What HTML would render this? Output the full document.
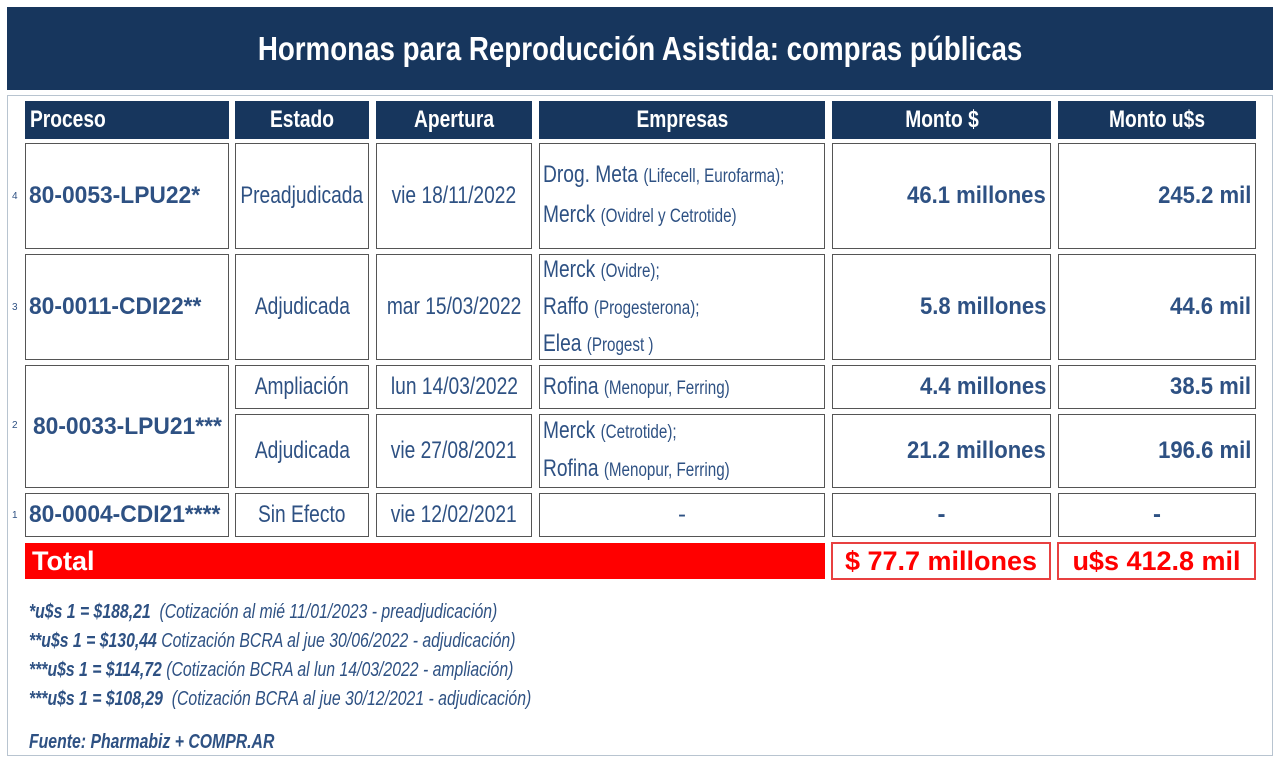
<!DOCTYPE html>
<html><head><meta charset="utf-8"><style>
body{margin:0;width:1280px;height:761px;background:#fff;position:relative;overflow:hidden;font-family:"Liberation Sans",sans-serif;}
div{box-sizing:border-box;}
.a{position:absolute;}
.s{display:inline-block;white-space:nowrap;transform:scaleX(.8);transform-origin:center;}
.l .s,.e .s{transform-origin:left center;}
.r .s{transform-origin:right center;}
.b .s,.r .s{transform:scaleX(.92);}
.p{font-size:25px;}
.p .s{transform:scaleX(.95);}
.title{left:7px;top:7px;width:1266px;height:83px;background:#17365d;color:#fff;font-weight:bold;font-size:33px;display:flex;align-items:center;justify-content:center;}
.title .s{transform:scaleX(.84);}
.frame{left:7px;top:95px;width:1266px;height:661px;border:1px solid #b8c4d0;}
.h{background:#17365d;color:#fff;font-weight:bold;font-size:24px;display:flex;align-items:center;justify-content:center;}
.c{border:1px solid #555;color:#2e5183;font-size:24px;display:flex;align-items:center;justify-content:center;white-space:nowrap;}
.l{justify-content:flex-start;padding-left:3px;}
.r{justify-content:flex-end;padding-right:4px;font-weight:bold;}
.e{flex-direction:column;align-items:flex-start;justify-content:center;padding-left:3px;line-height:38px;}
.b{font-weight:bold;}
.sm{font-size:19px;}
.n{font-size:10px;color:#2e5183;}
.tot{background:#ff0000;color:#fff;font-weight:bold;font-size:27px;display:flex;align-items:center;padding-left:7px;}
.tv{border:2px solid #e84040;color:#ff0000;font-weight:bold;font-size:27px;display:flex;align-items:center;justify-content:center;}
.note{left:29px;color:#2e5183;font-style:italic;font-size:20px;white-space:nowrap;transform:scaleX(.79);transform-origin:left center;}
</style></head><body>
<div class="a title"><span class="s">Hormonas para Reproducción Asistida: compras públicas</span></div>
<div class="a frame"></div>

<div class="a h l" style="left:25px;top:101px;width:204px;height:38px;padding-left:5px"><span class="s">Proceso</span></div>
<div class="a h" style="left:235px;top:101px;width:134px;height:38px"><span class="s">Estado</span></div>
<div class="a h" style="left:376px;top:101px;width:156px;height:38px"><span class="s">Apertura</span></div>
<div class="a h" style="left:539px;top:101px;width:286px;height:38px"><span class="s">Empresas</span></div>
<div class="a h" style="left:832px;top:101px;width:219px;height:38px"><span class="s">Monto $</span></div>
<div class="a h" style="left:1058px;top:101px;width:198px;height:38px"><span class="s">Monto u$s</span></div>

<!-- row 4 -->
<div class="a n" style="left:12px;top:191px">4</div>
<div class="a c l b p" style="left:25px;top:143px;width:204px;height:106px"><span class="s">80-0053-LPU22*</span></div>
<div class="a c" style="left:235px;top:143px;width:134px;height:106px"><span class="s">Preadjudicada</span></div>
<div class="a c" style="left:376px;top:143px;width:156px;height:106px"><span class="s">vie 18/11/2022</span></div>
<div class="a c e" style="left:539px;top:143px;width:286px;height:106px"><span class="s">Drog. Meta <span class="sm">(Lifecell, Eurofarma);</span></span><span class="s">Merck <span class="sm">(Ovidrel y Cetrotide)</span></span></div>
<div class="a c r" style="left:832px;top:143px;width:219px;height:106px"><span class="s">46.1 millones</span></div>
<div class="a c r" style="left:1058px;top:143px;width:198px;height:106px"><span class="s">245.2 mil</span></div>

<!-- row 3 -->
<div class="a n" style="left:12px;top:302px">3</div>
<div class="a c l b p" style="left:25px;top:254px;width:204px;height:106px"><span class="s">80-0011-CDI22**</span></div>
<div class="a c" style="left:235px;top:254px;width:134px;height:106px"><span class="s">Adjudicada</span></div>
<div class="a c" style="left:376px;top:254px;width:156px;height:106px"><span class="s">mar 15/03/2022</span></div>
<div class="a c e" style="left:539px;top:254px;width:286px;height:106px;line-height:35px"><span class="s">Merck <span class="sm">(Ovidre);</span></span><span class="s">Raffo <span class="sm">(Progesterona);</span></span><span class="s">Elea <span class="sm">(Progest )</span></span></div>
<div class="a c r" style="left:832px;top:254px;width:219px;height:106px"><span class="s">5.8 millones</span></div>
<div class="a c r" style="left:1058px;top:254px;width:198px;height:106px"><span class="s">44.6 mil</span></div>

<!-- row 2 -->
<div class="a n" style="left:12px;top:420px">2</div>
<div class="a c b p" style="left:25px;top:365px;width:204px;height:123px"><span class="s">80-0033-LPU21***</span></div>
<div class="a c" style="left:235px;top:365px;width:134px;height:44px"><span class="s">Ampliación</span></div>
<div class="a c" style="left:376px;top:365px;width:156px;height:44px"><span class="s">lun 14/03/2022</span></div>
<div class="a c l" style="left:539px;top:365px;width:286px;height:44px"><span class="s">Rofina <span class="sm">(Menopur, Ferring)</span></span></div>
<div class="a c r" style="left:832px;top:365px;width:219px;height:44px"><span class="s">4.4 millones</span></div>
<div class="a c r" style="left:1058px;top:365px;width:198px;height:44px"><span class="s">38.5 mil</span></div>
<div class="a c" style="left:235px;top:414px;width:134px;height:74px"><span class="s">Adjudicada</span></div>
<div class="a c" style="left:376px;top:414px;width:156px;height:74px"><span class="s">vie 27/08/2021</span></div>
<div class="a c e" style="left:539px;top:414px;width:286px;height:74px;line-height:36px"><span class="s">Merck <span class="sm">(Cetrotide);</span></span><span class="s">Rofina <span class="sm">(Menopur, Ferring)</span></span></div>
<div class="a c r" style="left:832px;top:414px;width:219px;height:74px"><span class="s">21.2 millones</span></div>
<div class="a c r" style="left:1058px;top:414px;width:198px;height:74px"><span class="s">196.6 mil</span></div>

<!-- row 1 -->
<div class="a n" style="left:12px;top:510px">1</div>
<div class="a c l b p" style="left:25px;top:493px;width:204px;height:44px"><span class="s">80-0004-CDI21****</span></div>
<div class="a c" style="left:235px;top:493px;width:134px;height:44px"><span class="s">Sin Efecto</span></div>
<div class="a c" style="left:376px;top:493px;width:156px;height:44px"><span class="s">vie 12/02/2021</span></div>
<div class="a c" style="left:539px;top:493px;width:286px;height:44px">-</div>
<div class="a c b" style="left:832px;top:493px;width:219px;height:44px">-</div>
<div class="a c b" style="left:1058px;top:493px;width:198px;height:44px">-</div>

<!-- total -->
<div class="a tot" style="left:25px;top:543px;width:800px;height:36px">Total</div>
<div class="a tv" style="left:831px;top:542px;width:220px;height:38px">$ 77.7 millones</div>
<div class="a tv" style="left:1057px;top:542px;width:199px;height:38px">u$s 412.8 mil</div>

<div class="a note" style="top:601px"><b>*u$s 1 = $188,21</b>&nbsp; (Cotización al mié 11/01/2023 - preadjudicación)</div>
<div class="a note" style="top:630px"><b>**u$s 1 = $130,44</b> Cotización BCRA al jue 30/06/2022 - adjudicación)</div>
<div class="a note" style="top:659px"><b>***u$s 1 = $114,72</b> (Cotización BCRA al lun 14/03/2022 - ampliación)</div>
<div class="a note" style="top:688px"><b>***u$s 1 = $108,29</b>&nbsp; (Cotización BCRA al jue 30/12/2021 - adjudicación)</div>
<div class="a note" style="top:731px;font-weight:bold">Fuente: Pharmabiz + COMPR.AR</div>
</body></html>
